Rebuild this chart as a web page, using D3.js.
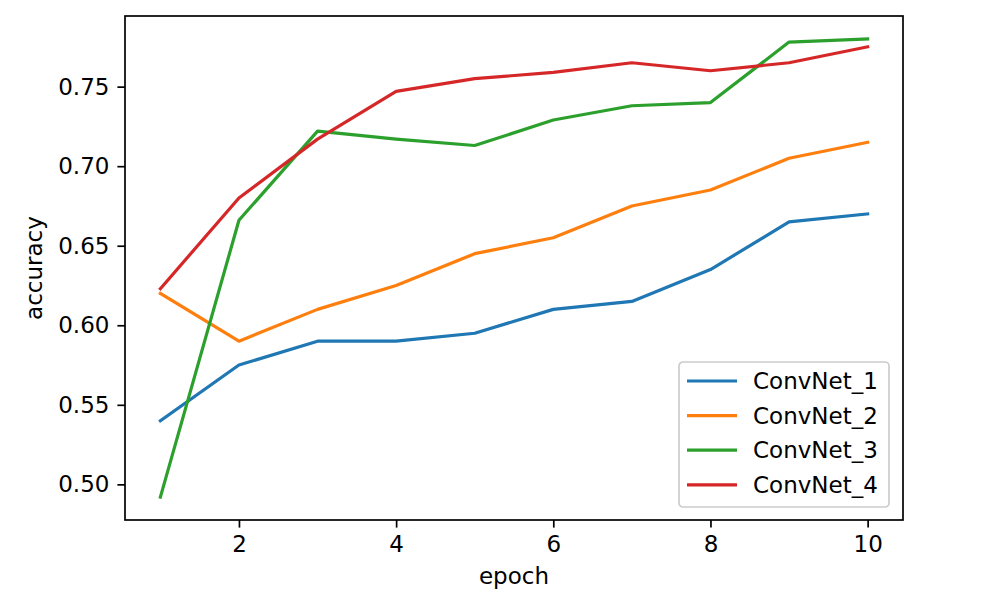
<!DOCTYPE html>
<html>
<head>
<meta charset="utf-8">
<script src="https://cdn.jsdelivr.net/npm/d3@7"></script>
<style>
  html, body { margin: 0; padding: 0; background: #fff; }
  svg text { font-family: "DejaVu Sans", sans-serif; fill: #000; }
</style>
</head>
<body>
<svg id="chart" width="1000" height="603"></svg>
<script>
// data
const epochs = [1, 2, 3, 4, 5, 6, 7, 8, 9, 10];
const convNet1 = [0.540, 0.575, 0.590, 0.590, 0.595, 0.610, 0.615, 0.635, 0.665, 0.670];
const convNet2 = [0.620, 0.590, 0.610, 0.625, 0.645, 0.655, 0.675, 0.685, 0.705, 0.715];
const convNet3 = [0.492, 0.666, 0.722, 0.717, 0.713, 0.729, 0.738, 0.740, 0.778, 0.780];
const convNet4 = [0.623, 0.680, 0.717, 0.747, 0.755, 0.759, 0.765, 0.760, 0.765, 0.775];
const seriesNames = ['ConvNet_1', 'ConvNet_2', 'ConvNet_3', 'ConvNet_4'];
const xTicks = [2, 4, 6, 8, 10];
const yTicks = [0.50, 0.55, 0.60, 0.65, 0.70, 0.75];

const colors = ['#1f77b4', '#ff7f0e', '#2ca02c', '#d62728'];
const series = [convNet1, convNet2, convNet3, convNet4].map((vals, i) => ({
  name: seriesNames[i],
  color: colors[i],
  points: vals.map((v, j) => ({ x: epochs[j], y: v }))
}));

const svg = d3.select('#chart');
const plot = { left: 125, right: 903, top: 16, bottom: 520 };
const fontSize = 23;

// matplotlib-style 5% margins
const pad = (lo, hi) => [lo - (hi - lo) * 0.05, hi + (hi - lo) * 0.05];
const allY = [].concat(convNet1, convNet2, convNet3, convNet4);

const x = d3.scaleLinear()
  .domain(pad(d3.min(epochs), d3.max(epochs)))
  .range([plot.left, plot.right]);
const y = d3.scaleLinear()
  .domain(pad(d3.min(allY), d3.max(allY)))
  .range([plot.bottom, plot.top]);

const line = d3.line().x(d => x(d.x)).y(d => y(d.y));

svg.append('g')
  .selectAll('path')
  .data(series)
  .join('path')
    .attr('d', d => line(d.points))
    .attr('fill', 'none')
    .attr('stroke', d => d.color)
    .attr('stroke-width', 3.2)
    .attr('stroke-linecap', 'square')
    .attr('stroke-linejoin', 'round');

// axes
const xAxis = svg.append('g')
  .attr('transform', `translate(0,${plot.bottom})`)
  .call(d3.axisBottom(x).tickValues(xTicks).tickFormat(d3.format('d'))
    .tickSize(7.6).tickPadding(8.5));
const yAxis = svg.append('g')
  .attr('transform', `translate(${plot.left},0)`)
  .call(d3.axisLeft(y).tickValues(yTicks).tickFormat(d3.format('.2f'))
    .tickSize(7.6).tickPadding(8));

[xAxis, yAxis].forEach(g => {
  g.select('.domain').remove();
  g.selectAll('.tick line').attr('stroke', '#000').attr('stroke-width', 1.7);
  g.selectAll('.tick text')
    .style('font-family', '"DejaVu Sans", sans-serif')
    .attr('font-size', fontSize)
    .attr('fill', '#000');
});

// frame
svg.append('rect')
  .attr('x', plot.left).attr('y', plot.top)
  .attr('width', plot.right - plot.left).attr('height', plot.bottom - plot.top)
  .attr('fill', 'none').attr('stroke', '#000').attr('stroke-width', 1.7);

// axis labels
svg.append('text')
  .attr('x', (plot.left + plot.right) / 2).attr('y', 584)
  .attr('text-anchor', 'middle').attr('font-size', fontSize)
  .text('epoch');
svg.append('text')
  .attr('transform', `translate(42,${(plot.top + plot.bottom) / 2}) rotate(-90)`)
  .attr('text-anchor', 'middle').attr('font-size', fontSize)
  .text('accuracy');

// legend
const legend = svg.append('g').attr('transform', 'translate(679,362)');
legend.append('rect')
  .attr('width', 210).attr('height', 145)
  .attr('rx', 4).attr('ry', 4)
  .attr('fill', '#fff').attr('fill-opacity', 0.8)
  .attr('stroke', '#ccc').attr('stroke-width', 1.7);
const rows = legend.selectAll('g.row')
  .data(series)
  .join('g')
    .attr('class', 'row')
    .attr('transform', (d, i) => `translate(0,${19 + i * 34.6})`);
rows.append('line')
  .attr('x1', 8).attr('x2', 58)
  .attr('stroke', d => d.color).attr('stroke-width', 3.2);
rows.append('text')
  .attr('x', 74).attr('dy', '0.36em')
  .attr('font-size', fontSize)
  .text(d => d.name);
</script>
</body>
</html>
